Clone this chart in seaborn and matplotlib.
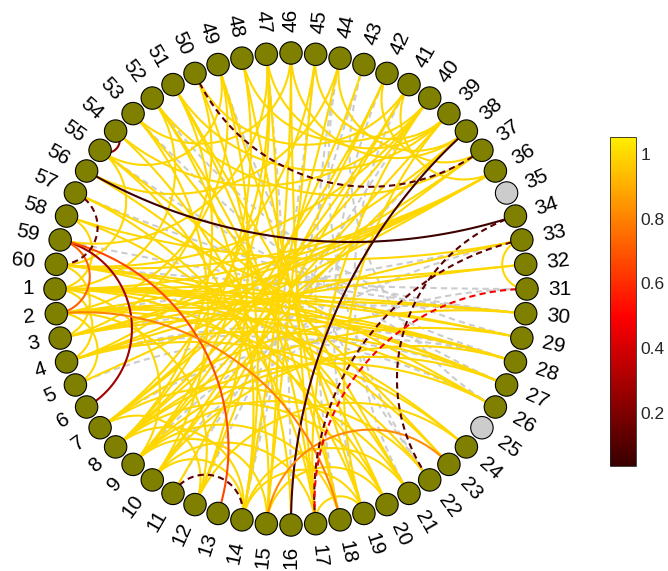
import numpy as np
import pandas as pd
import matplotlib
matplotlib.use("Agg")
import matplotlib.pyplot as plt
import matplotlib.colors as mcolors
import seaborn as sns

# node data
n_nodes = 60
node_labels = [str(i) for i in range(1, n_nodes + 1)]
grey_nodes = [25, 35]

# edges with value ~1 (yellow)
yellow_edges = [
    (1, 27), (1, 28), (1, 29), (1, 30), (1, 32), (1, 36), (1, 24), (1, 20), (1, 9), (1, 4), (1, 58), (1, 52),
    (2, 26), (2, 28), (2, 30), (2, 36), (2, 22), (2, 12), (2, 49), (2, 5),
    (60, 29), (60, 27), (60, 36), (60, 23), (60, 40), (60, 3), (60, 55),
    (59, 47), (58, 33), (58, 19), (57, 26), (57, 17), (56, 44), (56, 21),
    (55, 23), (55, 15), (55, 49), (54, 16), (54, 40), (53, 20), (53, 10), (53, 46),
    (52, 18), (52, 14), (52, 37), (51, 21), (51, 17), (51, 8), (51, 39),
    (50, 14), (50, 3), (50, 41), (49, 19), (49, 12), (48, 18), (48, 8), (48, 40),
    (47, 39), (47, 9), (47, 7), (46, 14), (46, 38), (45, 15), (45, 39), (45, 4),
    (44, 12), (44, 38), (43, 9), (42, 37), (42, 10), (42, 7), (41, 11), (41, 8), (41, 36),
    (40, 7), (40, 17), (39, 9), (39, 19), (38, 10), (38, 3), (37, 8), (37, 4),
    (36, 3), (36, 5), (33, 31), (33, 4), (32, 3), (30, 7), (29, 8), (28, 10), (28, 3),
    (27, 4), (27, 9), (26, 8), (24, 4), (24, 12), (22, 9), (21, 14), (21, 7),
    (20, 15), (20, 8), (19, 17), (19, 14), (18, 9), (17, 10), (17, 46), (15, 9),
    (15, 47), (14, 8), (14, 10), (12, 7),
]
yellow_value = 1.0

# insignificant edges (grey dashed)
grey_edges = [
    (3, 30), (4, 28), (5, 27), (2, 33), (60, 31), (59, 30), (4, 26), (47, 16),
    (43, 14), (42, 19), (41, 21), (44, 22), (43, 26), (49, 22), (53, 27), (52, 29),
    (11, 38), (9, 33), (12, 40), (14, 45), (18, 44), (7, 28), (10, 31), (55, 28), (57, 30),
]

# coloured edges: node a, node b, value, dashed
col_a = [56, 38, 59, 54, 59, 59, 2, 15, 50, 57, 11, 34, 33, 31]
col_b = [34, 16, 6, 55, 13, 2, 18, 23, 37, 60, 14, 22, 17, 17]
col_val = [0.05, 0.06, 0.28, 0.22, 0.66, 0.72, 0.80, 0.82, 0.12, 0.15, 0.12, 0.10, 0.14, 0.48]
col_dash = [False, False, False, False, False, False, False, False, True, True, True, True, True, True]

cb_ticks = [0.2, 0.4, 0.6, 0.8, 1]
clim = (0.036, 1.052)

theta = np.pi + np.arange(n_nodes) * 2 * np.pi / n_nodes
nx, ny = np.cos(theta), np.sin(theta)


def arc(a, b, npts=120):
    # arc of the circle orthogonal to the unit circle through both nodes
    u = np.array([nx[a - 1], ny[a - 1]])
    v = np.array([nx[b - 1], ny[b - 1]])
    det = u[0] * v[1] - u[1] * v[0]
    if abs(det) < 1e-6:
        t = np.linspace(0, 1, npts)
        return u[0] + (v[0] - u[0]) * t, u[1] + (v[1] - u[1]) * t
    x0 = -(u[1] - v[1]) / det
    y0 = (u[0] - v[0]) / det
    r = np.sqrt(x0 ** 2 + y0 ** 2 - 1)
    p1 = np.arctan2(u[1] - y0, u[0] - x0)
    p2 = np.arctan2(v[1] - y0, v[0] - x0)
    d = (p2 - p1 + np.pi) % (2 * np.pi) - np.pi
    ph = p1 + d * np.linspace(0, 1, npts)
    return x0 + r * np.cos(ph), y0 + r * np.sin(ph)


cmap = mcolors.ListedColormap(plt.cm.hot(np.linspace(0.07, 0.72, 256)))
norm = mcolors.Normalize(*clim)

sns.set_style("white")
plt.rcParams['font.family'] = ['Liberation Sans', 'DejaVu Sans']

fig = plt.figure(figsize=(6.68, 5.71), dpi=100)
ax = fig.add_axes([0, 0, 1, 1])
R = 236.0
ax.set_xlim(-291 / R, (668 - 291) / R)
ax.set_ylim(-(571 - 289) / R, 289 / R)
ax.set_aspect('equal')
ax.axis('off')

# grey dashed
for a, b in grey_edges:
    x, y = arc(a, b)
    ax.plot(x, y, color=(0.8, 0.8, 0.8), lw=1.5, dashes=(3, 2), zorder=1)

# yellow
for a, b in yellow_edges:
    x, y = arc(a, b)
    ax.plot(x, y, color=cmap(norm(yellow_value)), lw=1.5, zorder=2)

# coloured
for a, b, v, dsh in zip(col_a, col_b, col_val, col_dash):
    x, y = arc(a, b)
    if dsh:
        ax.plot(x, y, color=cmap(norm(v)), lw=1.5, dashes=(3, 2), zorder=2.5)
    else:
        ax.plot(x, y, color=cmap(norm(v)), lw=1.5, zorder=2.5)

# nodes
nodes = pd.DataFrame({
    'x': nx, 'y': ny,
    'kind': ['off' if i + 1 in grey_nodes else 'on' for i in range(n_nodes)],
})
sns.scatterplot(data=nodes, x='x', y='y', hue='kind',
                palette={'on': '#808000', 'off': '#cccccc'},
                s=260, edgecolor='black', linewidth=0.8, legend=False, ax=ax, zorder=3)
ax.set_xlabel('')
ax.set_ylabel('')

# labels
for i, lab in enumerate(node_labels):
    t = np.arctan2(ny[i], nx[i])
    lx, ly = 1.09 * nx[i], 1.09 * ny[i]
    if abs(t) > np.pi / 2:
        ax.text(lx, ly, lab, rotation=np.degrees(t) + 180, ha='right', va='center',
                rotation_mode='anchor', fontsize=15, color='black')
    else:
        ax.text(lx, ly, lab, rotation=np.degrees(t), ha='left', va='center',
                rotation_mode='anchor', fontsize=15, color='black')

# colorbar
cax = fig.add_axes([0.913, 0.184, 0.039, 0.576])
sm = plt.cm.ScalarMappable(norm=norm, cmap=cmap)
cb = fig.colorbar(sm, cax=cax, ticks=cb_ticks)
cb.ax.set_yticklabels([str(t) for t in cb_ticks])
cb.ax.tick_params(direction='in', length=3, width=0.6, labelsize=12.5, colors='#262626')
cb.outline.set_edgecolor('#262626')
cb.outline.set_linewidth(0.6)

fig.savefig('out.png', dpi=100)
